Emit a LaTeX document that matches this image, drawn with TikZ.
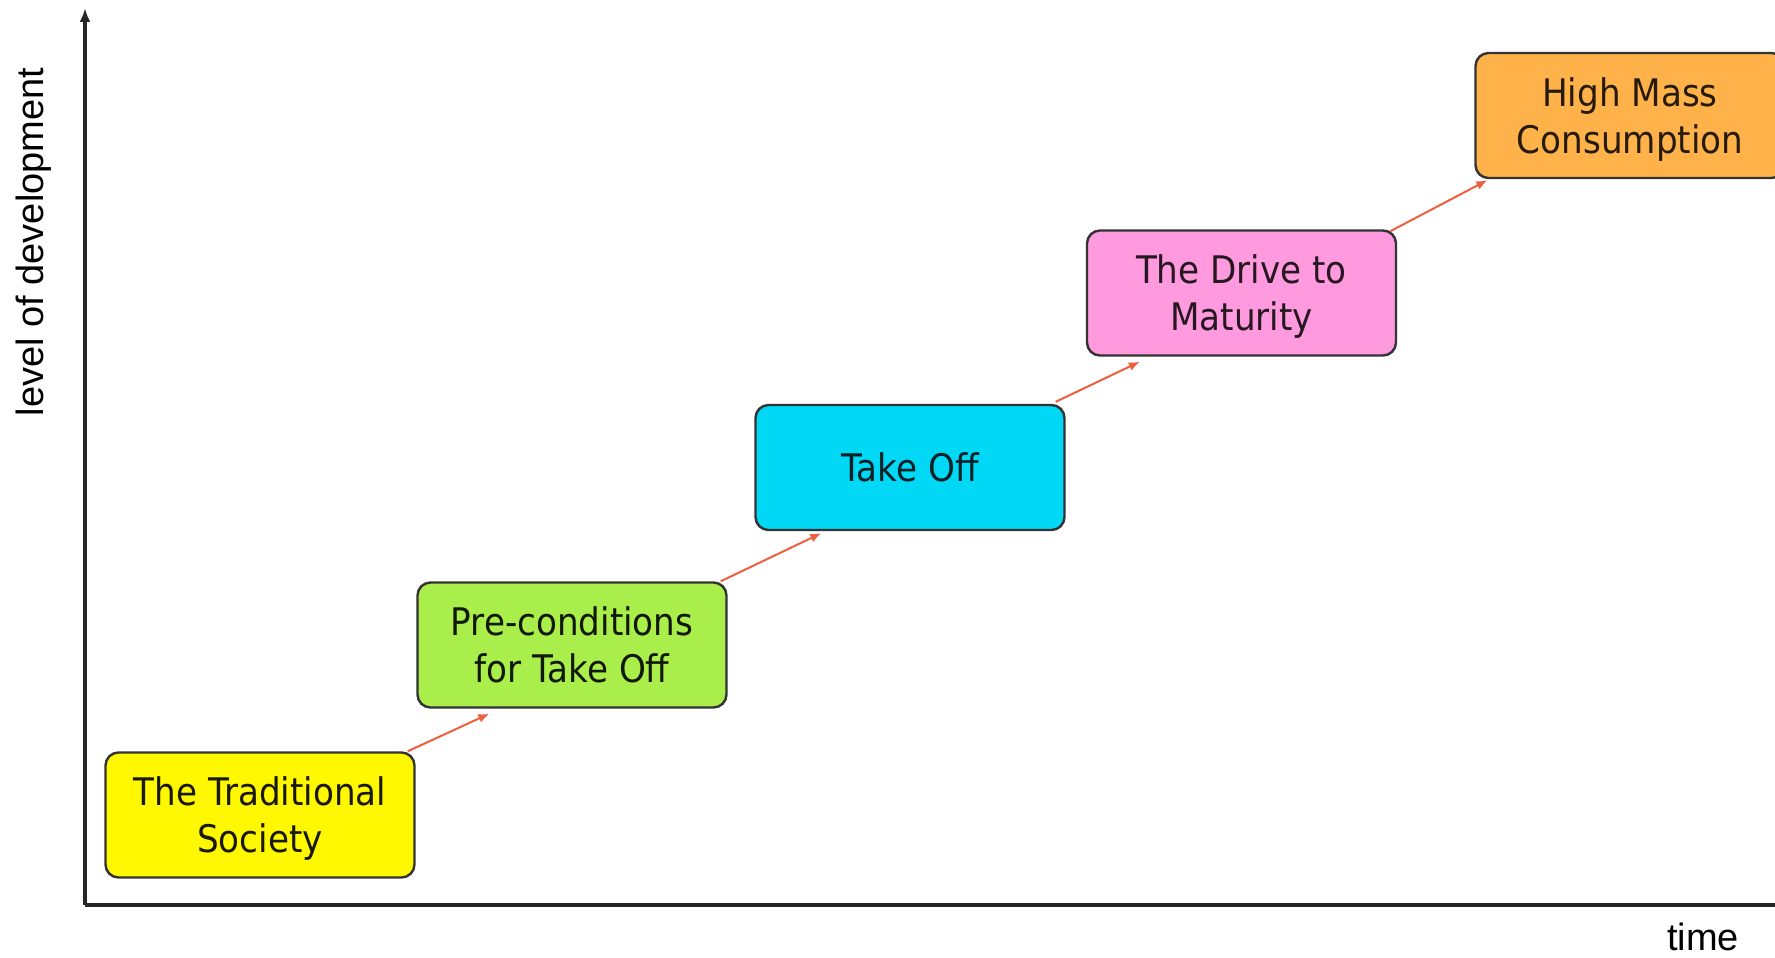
\documentclass[tikz,border=0pt]{standalone}
\usepackage{fontspec}
\setmainfont{Liberation Sans}
\newfontfamily\stagefont[FakeStretch=0.9]{DejaVu Sans}
\usetikzlibrary{arrows.meta}

\definecolor{tradyellow}{HTML}{FFF800}
\definecolor{pregreen}{HTML}{A9EE4A}
\definecolor{takecyan}{HTML}{00D8F6}
\definecolor{drivepink}{HTML}{FF9ADF}
\definecolor{massorange}{HTML}{FFB24A}
\definecolor{arrowred}{HTML}{EE5F3E}

\tikzset{
    stage/.style={draw=black!80, line width=2.4pt, rounded corners=13pt,
        minimum width=309pt, minimum height=125pt, inner sep=0pt, text depth=0pt,
        align=center, font=\stagefont\fontsize{38}{47}\selectfont},
    growth/.style={draw=arrowred, line width=2pt, -{Latex[length=11pt,width=9pt]}},
    axis/.style={line width=3.5pt, draw=black!85},
    axislabel/.style={font=\fontsize{38}{46}\selectfont, inner sep=0pt}
}

\begin{document}
\begin{tikzpicture}[x=1pt,y=-1pt]
\useasboundingbox (0,0) rectangle (1775,958);
\coordinate (origin) at (85,905);
\coordinate (ytop) at (85,8);
\coordinate (xend) at (1775,905);
\draw[axis, -{Latex[length=14pt,width=11pt]}] (origin) -- (ytop);
\draw[axis] (origin) -- (xend);
\node[axislabel, rotate=90, anchor=base] (ylabel) at (43,242) {level of development};
\node[axislabel, anchor=base] (xlabel) at (1703,950) {time};

\node[stage, fill=tradyellow, text=tradyellow!10!black] (trad) at (260,815) {The Traditional\\Society};
\node[stage, fill=pregreen, text=pregreen!10!black] (pre) at (572,645) {Pre-conditions\\for Take Off};
\node[stage, fill=takecyan, text=takecyan!15!black] (take) at (910,467.5) {Take Off};
\node[stage, fill=drivepink, text=drivepink!15!black] (drive) at (1241.5,293) {The Drive to\\Maturity};
\node[stage, fill=massorange, text=massorange!15!black] (mass) at (1630,115.5) {High Mass\\Consumption};

\draw[growth] ([xshift=-8pt]trad.north east) -- ([xshift=73pt,yshift=-5pt]pre.south west);
\draw[growth] ([xshift=-7pt]pre.north east) -- ([xshift=67pt,yshift=-2pt]take.south west);
\draw[growth] ([xshift=-10pt,yshift=2pt]take.north east) -- ([xshift=54pt,yshift=-5pt]drive.south west);
\draw[growth] ([xshift=-7pt,yshift=-2pt]drive.north east) -- ([xshift=13pt,yshift=-1pt]mass.south west);
\end{tikzpicture}
\end{document}
